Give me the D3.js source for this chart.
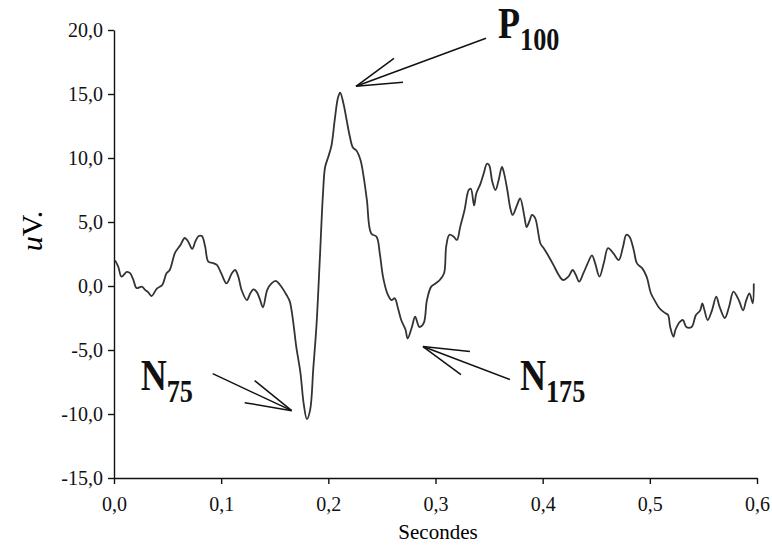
<!DOCTYPE html>
<html>
<head>
<meta charset="utf-8">
<script src="https://cdn.jsdelivr.net/npm/d3@7"></script>
<style>
  body { margin: 0; background: #fff; }
  svg { display: block; }
  .axis path, .axis line { stroke: #111; stroke-width: 1.4; }
  .axis text { font-family: "Liberation Serif", "DejaVu Serif", serif; font-size: 20px; fill: #111; }
</style>
</head>
<body>
<div class="svg-container"></div>
<script>
// time (s) and amplitude (uV)
const timeS = [
  0.001, 0.004, 0.007, 0.012, 0.015, 0.018, 0.021, 0.026, 0.029, 0.032,
  0.035, 0.040, 0.045, 0.049, 0.052, 0.057, 0.062, 0.066, 0.069, 0.073,
  0.076, 0.079, 0.082, 0.085, 0.088, 0.092, 0.096, 0.100, 0.105, 0.110,
  0.113, 0.116, 0.119, 0.124, 0.127, 0.130, 0.133, 0.136, 0.139, 0.143,
  0.147, 0.151, 0.155, 0.161, 0.164, 0.167, 0.170, 0.174, 0.177, 0.180,
  0.183, 0.186, 0.189, 0.192, 0.195, 0.197, 0.200, 0.203, 0.206, 0.209,
  0.211, 0.214, 0.217, 0.220, 0.223, 0.226, 0.230, 0.233, 0.236, 0.240,
  0.245, 0.248, 0.251, 0.255, 0.259, 0.262, 0.265, 0.268, 0.272, 0.274,
  0.278, 0.281, 0.285, 0.289, 0.292, 0.296, 0.300, 0.304, 0.308, 0.310,
  0.313, 0.317, 0.320, 0.323, 0.327, 0.331, 0.333, 0.336, 0.338, 0.342,
  0.345, 0.348, 0.350, 0.353, 0.356, 0.359, 0.362, 0.364, 0.367, 0.370,
  0.372, 0.376, 0.379, 0.383, 0.385, 0.388, 0.390, 0.393, 0.398, 0.401,
  0.405, 0.410, 0.415, 0.419, 0.424, 0.428, 0.431, 0.434, 0.438, 0.442,
  0.446, 0.449, 0.453, 0.457, 0.461, 0.466, 0.471, 0.475, 0.478, 0.481,
  0.485, 0.488, 0.493, 0.497, 0.501, 0.505, 0.509, 0.514, 0.517, 0.519,
  0.522, 0.524, 0.528, 0.531, 0.534, 0.539, 0.543, 0.547, 0.549, 0.551,
  0.554, 0.558, 0.562, 0.565, 0.570, 0.574, 0.578, 0.583, 0.587, 0.590,
  0.593, 0.596, 0.597
];
const microvolts = [
  2.0, 1.5, 0.73, 1.1, 1.0, 0.5, -0.16, -0.05, -0.3, -0.5,
  -0.78, -0.2, 0.08, 1.0, 1.25, 2.6, 3.2, 3.75, 3.5, 2.9,
  3.5, 3.9, 3.9, 3.1, 1.9, 1.8, 1.65, 1.0, 0.2, 1.0,
  1.25, 0.73, -0.3, -1.1, -0.6, -0.26, -0.44, -1.0, -1.66, -0.3,
  0.2, 0.4, 0.08, -0.7, -1.2, -2.66, -4.7, -6.8, -9.2, -10.4,
  -9.7, -6.4, -3.0, 2.0, 7.2, 9.3, 10.1, 11.0, 13.0, 14.7,
  15.1, 14.3, 13.0, 11.7, 10.8, 10.6, 9.84, 8.5, 6.7, 4.1,
  3.85, 2.55, 0.73, -0.57, -1.1, -0.96, -1.74, -2.66, -3.4, -4.1,
  -3.2, -2.4, -3.2, -2.9, -1.1, -0.05, 0.2, 0.47, 1.0, 3.1,
  4.0, 3.85, 3.6, 4.6, 5.9, 7.5, 7.6, 6.3, 7.2, 8.0,
  8.8, 9.55, 9.45, 8.15, 7.5, 8.3, 9.3, 8.8, 7.5, 6.0,
  5.55, 6.3, 6.85, 5.4, 4.6, 5.15, 5.55, 5.3, 3.3, 2.95,
  2.4, 1.65, 0.86, 0.47, 0.73, 1.25, 0.86, 0.34, 1.0, 1.77,
  2.4, 1.77, 0.73, 1.77, 2.95, 2.55, 2.03, 3.07, 4.0, 3.85,
  2.8, 1.77, 1.38, 0.73, -0.57, -1.2, -1.74, -2.1, -2.27, -3.2,
  -3.96, -3.4, -2.8, -2.66, -3.2, -3.2, -2.27, -1.9, -1.35, -1.9,
  -2.66, -1.9, -0.83, -1.6, -2.5, -1.6, -0.44, -1.1, -1.9, -1.1,
  -0.57, -1.35, 0.2
];

const xTicks = [0, 0.1, 0.2, 0.3, 0.4, 0.5, 0.6];
const yTicks = [-15, -10, -5, 0, 5, 10, 15, 20];

// peak labels: tip of arrow in data units
const peakNames = ["N", "P", "N"];
const peakSubs = ["75", "100", "175"];
const peakTips = [[0.1658, -9.74], [0.2258, 15.6], [0.2883, -4.73]];

const W = 772, H = 546;
const x = d3.scaleLinear().domain([0, 0.6]).range([114, 757]);
const y = d3.scaleLinear().domain([-15, 20]).range([478, 30]);
const comma = v => d3.format(".1f")(v).replace(".", ",").replace("\u2212", "-");

const svg = d3.select(".svg-container").append("svg")
  .attr("width", W).attr("height", H);

svg.append("g")
  .attr("class", "axis")
  .attr("transform", `translate(0, ${y(-15)})`)
  .call(d3.axisBottom(x).tickValues(xTicks).tickFormat(comma).tickSize(6).tickSizeOuter(0).tickPadding(13));

svg.append("g")
  .attr("class", "axis")
  .attr("transform", `translate(${x(0)}, 0)`)
  .call(d3.axisLeft(y).tickValues(yTicks).tickFormat(comma).tickSize(6).tickSizeOuter(0).tickPadding(5));

svg.selectAll(".axis .domain").attr("stroke-width", 1.6);

// trace
const pts = timeS.map((t, i) => [t, microvolts[i]]);
svg.append("path")
  .datum(pts)
  .attr("fill", "none")
  .attr("stroke", "#333")
  .attr("stroke-width", 1.8)
  .attr("stroke-linejoin", "round")
  .attr("d", d3.line().x(d => x(d[0])).y(d => y(d[1])).curve(d3.curveCatmullRom));

// axis titles
svg.append("text")
  .attr("x", 438).attr("y", 539)
  .attr("text-anchor", "middle")
  .style("font-family", "Liberation Serif, serif")
  .style("font-size", "21px")
  .text("Secondes");

const yl = svg.append("text")
  .attr("transform", "translate(42, 231) rotate(-90)")
  .attr("text-anchor", "middle")
  .style("font-family", "Liberation Serif, serif")
  .style("font-size", "30px");
yl.append("tspan").style("font-style", "italic").text("u");
yl.append("tspan").text("V.");

// arrows: shaft end, upper barb, lower barb offsets from tip (px)
const arrowOffsets = [
  [[-79, -37], [-37, -30], [-47, -8]],
  [[130, -48], [38, -28], [47, -4]],
  [[87, 33], [47, 5], [38, 28]]
];
const labelOffsets = [[-151, -21], [142, -48], [97, 43]];

peakTips.forEach((tip, i) => {
  const tx = x(tip[0]), ty = y(tip[1]);
  arrowOffsets[i].forEach(o => {
    svg.append("line")
      .attr("x1", tx).attr("y1", ty)
      .attr("x2", tx + o[0]).attr("y2", ty + o[1])
      .attr("stroke", "#111").attr("stroke-width", 1.5);
  });
  const lab = svg.append("text")
    .attr("transform", `translate(${tx + labelOffsets[i][0]}, ${ty + labelOffsets[i][1]}) scale(0.82, 1)`)
    .style("font-family", "Liberation Serif, serif")
    .style("font-weight", "bold")
    .style("font-size", "44px")
    .attr("fill", "#111");
  lab.append("tspan").text(peakNames[i]);
  lab.append("tspan").attr("dy", 12).style("font-size", "32px").text(peakSubs[i]);
});
</script>
</body>
</html>
